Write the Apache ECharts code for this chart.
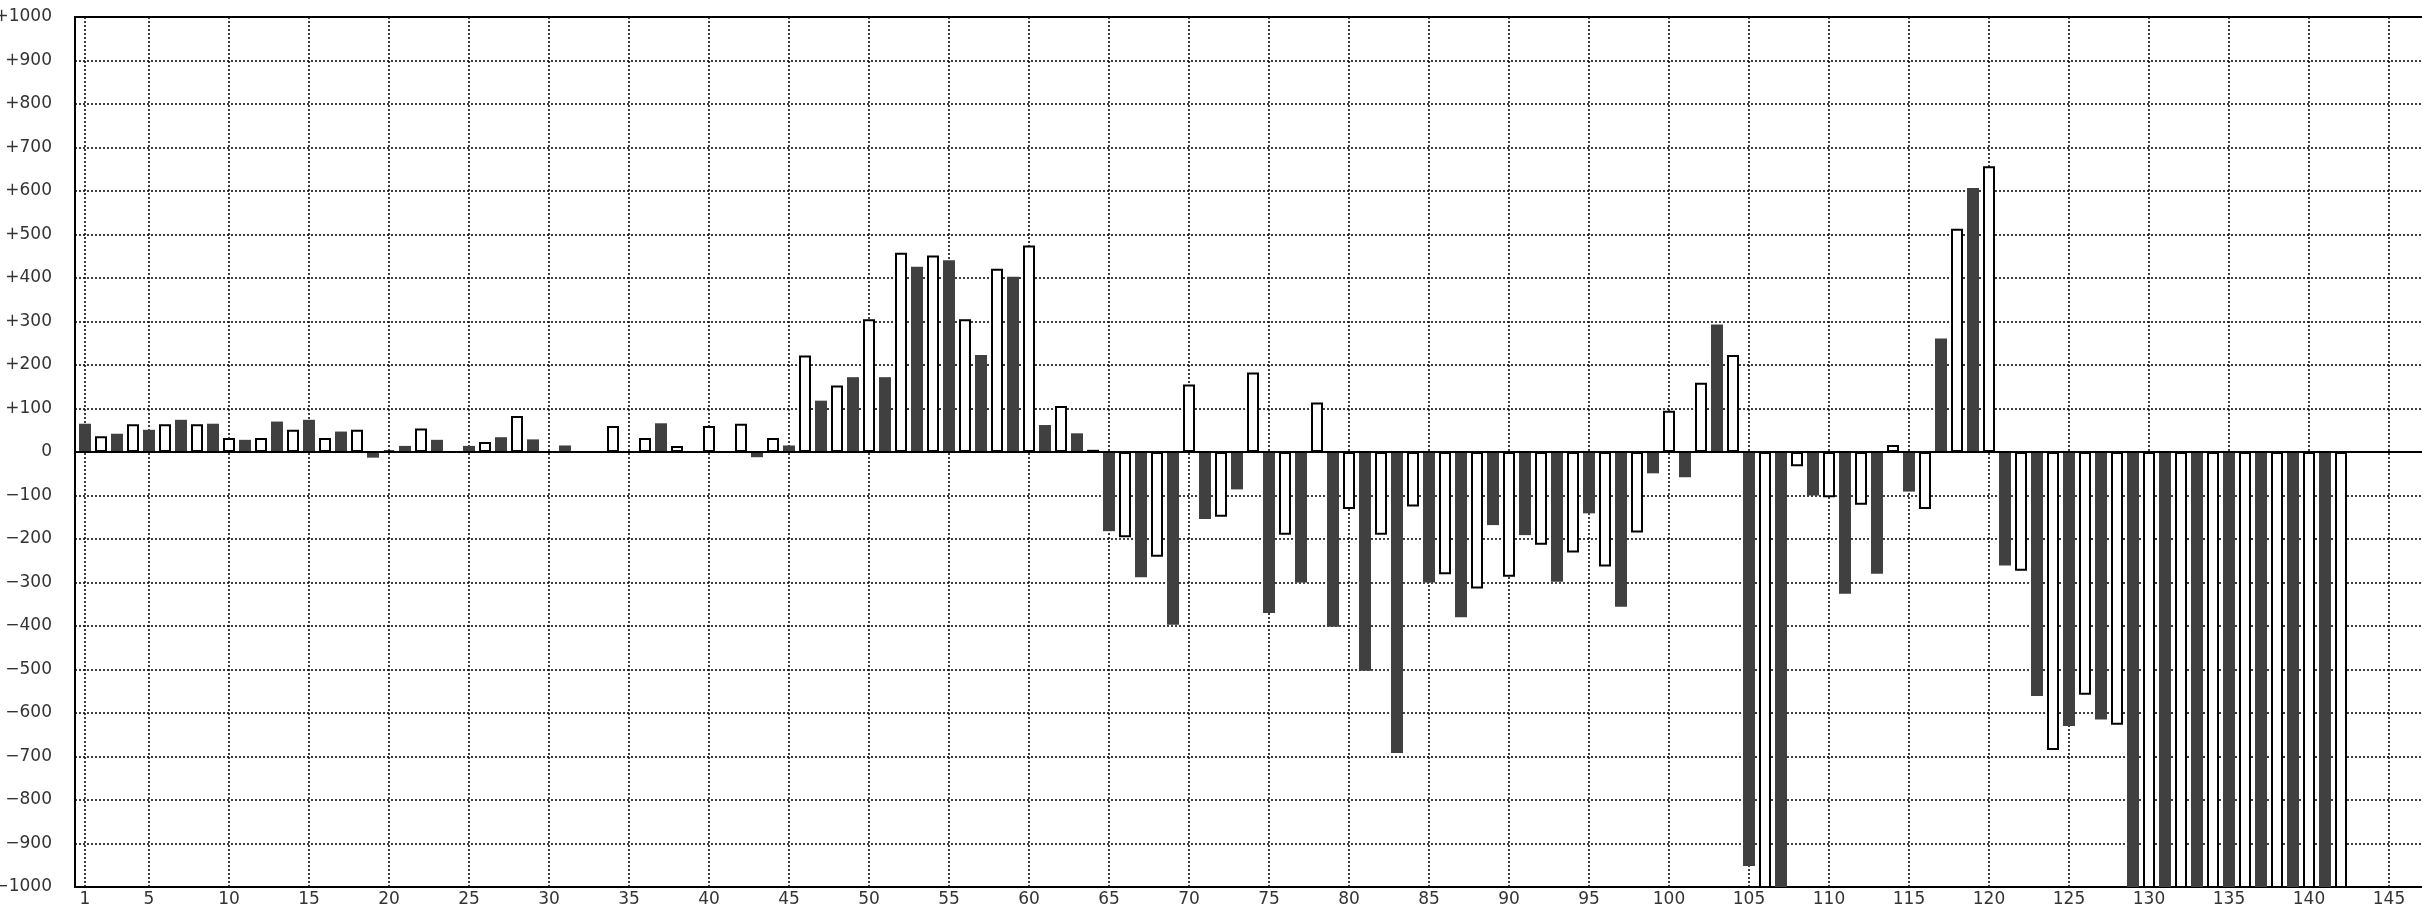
<!DOCTYPE html>
<html>
<head>
<meta charset="utf-8">
<style>
  html, body { margin: 0; padding: 0; background: #fff; }
  #chart { width: 2422px; height: 908px; }
</style>
<script src="https://cdn.jsdelivr.net/npm/echarts@6/dist/echarts.min.js"></script>
</head>
<body>
<div id="chart"></div>
<script>
// Category numbers shown as x tick labels
const xTickLabels = [1, 5, 10, 15, 20, 25, 30, 35, 40, 45, 50, 55, 60, 65, 70, 75, 80, 85, 90, 95,
  100, 105, 110, 115, 120, 125, 130, 135, 140, 145];

// Bar values for categories 1..142 (null = no bar); values below -1000 run off the axis
const barValues = [
  65, 36, 42, 64, 51, 64, 74, 64, 65, 32,          // 1-10
  28, 32, 70, 51, 74, 32, 47, 51, -13, 4,          // 11-20
  14, 54, 28, null, 14, 23, 34, 83, 29, null,      // 21-30
  15, null, null, 60, null, 32, 66, 14, null, 60,  // 31-40
  null, 65, -12, 32, 15, 222, 118, 153, 172, 305,  // 41-50
  172, 458, 426, 452, 441, 305, 223, 421, 403, 475,// 51-60
  62, 106, 43, 5, -182, -196, -288, -241, -397, 155,   // 61-70
  -154, -149, -86, 183, -370, -190, -300, 114, -402, -131, // 71-80
  -503, -190, -692, -125, -300, -281, -380, -314, -168, -287, // 81-90
  -191, -213, -298, -231, -141, -263, -356, -185, -49, 95,   // 91-100
  -58, 159, 293, 223, -952, -1080, -1080, -33, -100, -104,  // 101-110
  -326, -121, -280, 16, -91, -131, 261, 513, 607, 657,      // 111-120
  -261, -273, -561, -685, -630, -558, -615, -627, -1080, -1080, // 121-130
  -1080, -1080, -1080, -1080, -1080, -1080, -1080, -1080, -1080, -1080, // 131-140
  -1080, -1080                                                // 141-142
];

const DARK = '#404040';
const FONT = 'DejaVu Sans';

const barData = barValues.map((v, i) => ({
  value: [i + 1, v],
  itemStyle: (i % 2 === 0)
    ? { color: DARK, borderWidth: 0 }
    : { color: '#ffffff', borderColor: '#000000', borderWidth: 2 }
}));

const chart = echarts.init(document.getElementById('chart'), null, { renderer: 'canvas' });

const option = {
  animation: false,
  backgroundColor: '#ffffff',
  grid: {
    left: 75, top: 17, right: -21, bottom: 21,
    show: true, borderColor: '#000', borderWidth: 2, backgroundColor: 'transparent',
    containLabel: false,
    outerBoundsMode: 'none'
  },
  xAxis: {
    type: 'value',
    min: 0.375,
    max: 148.375,
    axisLine: { show: false },
    axisTick: { show: false, customValues: xTickLabels },
    axisLabel: {
      customValues: xTickLabels,
      fontFamily: FONT, fontSize: 17, color: '#333', margin: 4,
      hideOverlap: false,
      formatter: v => String(v)
    },
    splitLine: {
      show: true,
      lineStyle: { color: '#000', width: 1.5, type: [2, 2] }
    }
  },
  yAxis: {
    type: 'value',
    min: -1000,
    max: 1000,
    interval: 100,
    axisLine: { show: false },
    axisTick: { show: false },
    axisLabel: {
      fontFamily: FONT, fontSize: 17, color: '#333', margin: 23,
      hideOverlap: false,
      formatter: v => v > 0 ? '+' + v : (v < 0 ? '\u2212' + (-v) : '0')
    },
    splitLine: {
      show: true,
      lineStyle: { color: '#000', width: 1.5, type: [2, 2] }
    }
  },
  series: [{
    type: 'bar',
    barWidth: 12,
    clip: true,
    data: barData,
    markLine: {
      silent: true,
      symbol: 'none',
      label: { show: false },
      lineStyle: { color: '#000', width: 2, type: 'solid' },
      data: [{ yAxis: 0 }],
      z: 10
    }
  }]
};

chart.setOption(option);
</script>
</body>
</html>
